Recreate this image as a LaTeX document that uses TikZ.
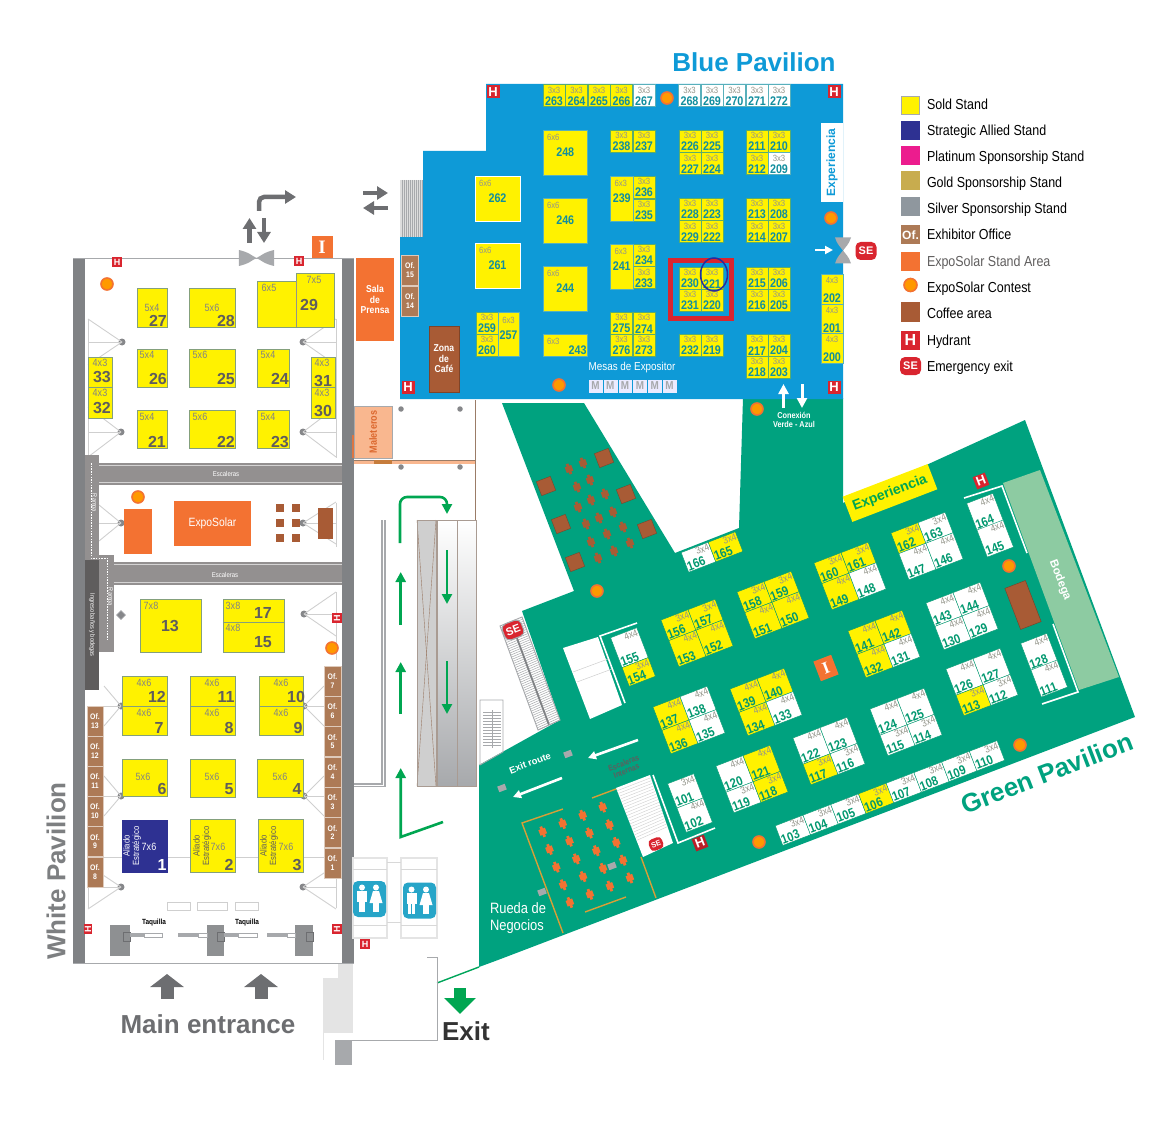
\documentclass[tikz,border=0pt]{standalone}
\usepackage{fontspec}
\setmainfont{Liberation Sans}
\newfontfamily\narrowf[FakeStretch=0.86]{Liberation Sans}
\newfontfamily\slabf{Liberation Serif}
\usetikzlibrary{arrows.meta,positioning,calc,shapes.geometric}

\definecolor{soldY}{HTML}{FFF200}
\definecolor{blueHall}{HTML}{0E9AD7}
\definecolor{greenHall}{HTML}{00A27F}
\definecolor{greenStore}{HTML}{8DCBA2}
\definecolor{routeGreen}{HTML}{00A651}
\definecolor{wallGray}{HTML}{808285}
\definecolor{bandGray}{HTML}{939090}
\definecolor{darkGray}{HTML}{5F5D5D}
\definecolor{midGray}{HTML}{6D6E71}
\definecolor{softGray}{HTML}{A7A9AC}
\definecolor{lineGray}{HTML}{CFCFCF}
\definecolor{dimGray}{HTML}{93958A}
\definecolor{expoOrange}{HTML}{F37232}
\definecolor{coffeeBrown}{HTML}{A85B35}
\definecolor{officeBrown}{HTML}{AD7A56}
\definecolor{alliedBlue}{HTML}{2E3192}
\definecolor{platPink}{HTML}{EC1C8E}
\definecolor{goldTan}{HTML}{C8AC4E}
\definecolor{silverGray}{HTML}{8F979E}
\definecolor{signRed}{HTML}{D9252F}
\definecolor{wcBlue}{HTML}{27A5C8}
\definecolor{peach}{HTML}{F9B78F}
\definecolor{numTeal}{HTML}{118E9E}
\definecolor{numGreen}{HTML}{00986F}

\tikzset{
  every node/.style={inner sep=0pt,outer sep=0pt},
  bluebox/.style={rectangle,draw=numTeal!70,line width=0.5pt,anchor=north west},
  bdim/.style={font=\narrowf\fontsize{9}{9}\selectfont,text=dimGray,inner sep=1pt},
  bnum/.style={font=\narrowf\bfseries\fontsize{12.5}{12.5}\selectfont,text=numTeal,inner sep=1pt},
  whitebox/.style={rectangle,draw=dimGray!90!green,line width=0.8pt,fill=soldY,anchor=north west},
  wdim/.style={font=\narrowf\fontsize{10.5}{10.5}\selectfont,text=wallGray},
  wnum/.style={font=\bfseries\fontsize{16}{16}\selectfont,text=darkGray},
  greenbox/.style={rectangle,draw=numGreen,line width=0.4pt},
  gdim/.style={font=\narrowf\fontsize{10}{10}\selectfont,text=dimGray,inner sep=1pt},
  gnum/.style={font=\narrowf\bfseries\fontsize{13}{13}\selectfont,text=numGreen,inner sep=0.8pt},
  officebox/.style={rectangle,fill=officeBrown,draw=white!60!officeBrown,line width=0.4pt,align=center,text=white,
    font=\narrowf\bfseries\fontsize{8}{8.5}\selectfont},
  hydrantbox/.style={rectangle,fill=signRed,text=white,font=\bfseries\fontsize{13}{13}\selectfont,minimum size=13pt},
  hydrantsmall/.style={hydrantbox,font=\bfseries\fontsize{9}{9}\selectfont,minimum size=10pt},
  contestdot/.style={circle,fill=orange!80!yellow,draw=expoOrange,line width=1.6pt,minimum size=12pt},
  seicon/.style={rectangle,rounded corners=5pt,fill=signRed,text=white,font=\bfseries\fontsize{11}{11}\selectfont,
    minimum width=21pt,minimum height=18pt},
  itile/.style={rectangle,fill=expoOrange,text=white,font=\slabf\bfseries\fontsize{19}{19}\selectfont,minimum width=21pt,minimum height=22pt},
  orangearea/.style={rectangle,fill=expoOrange,text=white,anchor=north west},
  brownarea/.style={rectangle,fill=coffeeBrown,text=white,anchor=north west},
  stairsband/.style={fill=bandGray},
  title/.style={font=\bfseries\fontsize{26}{26}\selectfont},
  greenarrow/.style={draw=routeGreen,line width=2.6pt,-{Triangle[length=10pt,width=10pt]}},
  grayarrow/.style={draw=midGray,line width=4.5pt,-{Triangle[length=11pt,width=13pt]}},
  whitearrow/.style={draw=white,line width=2.6pt,-{Triangle[length=8pt,width=8pt]}},
  fanline/.style={draw=lineGray,line width=0.9pt},
  postdot/.style={circle,fill=softGray!80!black,minimum size=7pt},
  swatch/.style={rectangle,minimum size=19pt},
  legendlab/.style={font=\narrowf\fontsize{14.5}{14.5}\selectfont,anchor=base west}
}

% stand in the blue hall
\newcommand{\bstand}[5]{
  \node[bluebox,fill=#4,draw=#4!30!numTeal,minimum width=22pt,minimum height=22pt] (b#1) at (#2,#3) {};
  \node[bdim,anchor=north] at ($(b#1.north)+(0,1.5)$) {#5};
  \node[bnum,anchor=south] at (b#1.south) {#1};
}
\newcommand{\bigstand}[6]{
  \node[bluebox,fill=soldY,draw=#6,minimum width=#4pt,minimum height=45pt] (b#1) at (#2,#3) {};
  \node[bdim,anchor=north west] at ($(b#1.north west)+(3,3)$) {#5};
  \node[bnum] at (b#1.center) {#1};
}
% tilted stand of the green hall, placed inside a rotated scope
\newcommand{\gcell}[7]{
  \node[greenbox,fill=#6,minimum width=#4pt,minimum height=#5pt] (g#1) at (#2,#3) {};
  \node[gdim,anchor=north east] at (g#1.north east) {#7};
  \node[gnum,anchor=south west] at (g#1.south west) {#1};
}
% block of four tilted stands: centre, height of the upper row, then the stands
\newcommand{\gblock}[6]{
  \begin{scope}[shift={(#1)},rotate=21,transform shape]
    \pgfmathsetmacro{\hup}{#2}
    \pgfmathsetmacro{\hlo}{50-#2}
    \foreach \nm/\fc/\dm [count=\i from 1] in {#3,#4,#5,#6} {
      \ifnum\i=1 \gcell{\nm}{-14.5}{-25+\hup/2}{29}{\hup}{\fc}{\dm}\fi
      \ifnum\i=2 \gcell{\nm}{14.5}{-25+\hup/2}{29}{\hup}{\fc}{\dm}\fi
      \ifnum\i=3 \gcell{\nm}{-14.5}{25-\hlo/2}{29}{\hlo}{\fc}{\dm}\fi
      \ifnum\i=4 \gcell{\nm}{14.5}{25-\hlo/2}{29}{\hlo}{\fc}{\dm}\fi
    }
  \end{scope}
}
\newcommand{\doorbow}[4]{
  \begin{scope}[shift={(#1,#2)},rotate=#3,xscale=#4]
    \fill[softGray] (-13,-8) .. controls (-6,-6) and (-3,-2) .. (0,0)
      .. controls (3,-2) and (6,-6) .. (13,-8) -- (13,8)
      .. controls (6,6) and (3,2) .. (0,0)
      .. controls (-3,2) and (-6,6) .. (-13,8) -- cycle;
  \end{scope}
}
\newcommand{\deskmark}[3]{
  \begin{scope}[shift={(#1,#2)},rotate=21]
    \fill[#3] (-3.5,-3) rectangle (3.5,3);
    \fill[#3] (-1.4,-5.5) rectangle (1.4,5.5);
  \end{scope}
}
\newcommand{\fanpost}[5]{
  \node[postdot] (#1) at (#2,#3) {};
  \foreach \yy in {-#5,0,#5} { \draw[fanline] (#1.center) -- (#4,#3+\yy); }
}
\newcommand{\wcperson}[2]{
  \fill[white] (#1,#2-10.5) circle (3);
  \fill[white] (#1-5,#2-7) rectangle (#1+5,#2+4);
  \fill[white] (#1-3.2,#2+4) rectangle (#1-0.4,#2+14);
  \fill[white] (#1+0.4,#2+4) rectangle (#1+3.2,#2+14);
}
\newcommand{\wcwoman}[2]{
  \fill[white] (#1,#2-10.5) circle (3);
  \fill[white] (#1-3,#2-7) -- (#1+3,#2-7) -- (#1+6.5,#2+5) -- (#1-6.5,#2+5) -- cycle;
  \fill[white] (#1-3,#2+5) rectangle (#1-0.4,#2+14);
  \fill[white] (#1+0.4,#2+5) rectangle (#1+3,#2+14);
}

\begin{document}
\begin{tikzpicture}[x=1pt,y=-1pt]
  \useasboundingbox (0,0) rectangle (1160,1134);

  % Green pavilion floor
  \fill[greenHall] (502,403) -- (584,403) -- (675,553) -- (739,528) -- (743,398) -- (843,398)
    -- (843,503) -- (1025,420) -- (1135,717) -- (498,960) -- (479,967) -- (479,765)
    -- (560,720) -- (522,611) -- (574,591) -- cycle;
  \fill[greenStore] (1003,483) -- (1040,470) -- (1119,677) -- (1079,690) -- cycle;
  \node[rotate=-69,text=white,font=\bfseries\fontsize{11.5}{11.5}\selectfont] (bodegaLabel) at (1060,580) {Bodega};
  \draw[routeGreen!80!greenHall,line width=1.4pt] (437,983) -- (479,967);

  % Blue pavilion floor
  \fill[blueHall] (486,84) -- (843,84) -- (843,399) -- (400,399) -- (400,237) -- (423,237) -- (423,151) -- (486,151) -- cycle;
  \fill[lineGray!70] (400,180) rectangle (423,237);
  \foreach \xx in {402,404,...,422} { \draw[softGray,line width=0.3pt] (\xx,180) -- (\xx,237); }

  % Blue stands, fixed size
  \foreach \nm/\xx/\yy/\fc/\dm in {
    263/543/84.5/soldY/3x3,264/565.5/84.5/soldY/3x3,265/588/84.5/soldY/3x3,266/610.5/84.5/soldY/3x3,267/633/84.5/white/3x3,
    268/678.5/84.5/white/3x3,269/701/84.5/white/3x3,270/723.5/84.5/white/3x3,271/746/84.5/white/3x3,272/768/84.5/white/3x3,
    238/610.5/130/soldY/3x3,237/633/130/soldY/3x3,
    226/679/130/soldY/3x3,225/701/130/soldY/3x3,227/679/152.5/soldY/3x3,224/701/152.5/soldY/3x3,
    211/746/130/soldY/3x3,210/768/130/soldY/3x3,212/746/152.5/soldY/3x3,209/768/152.5/white/3x3,
    236/633/176/soldY/3x3,235/633/199/soldY/3x3,
    228/679/198/soldY/3x3,223/701/198/soldY/3x3,229/679/220.5/soldY/3x3,222/701/220.5/soldY/3x3,
    213/746/198/soldY/3x3,208/768/198/soldY/3x3,214/746/220.5/soldY/3x3,207/768/220.5/soldY/3x3,
    234/633/244/soldY/3x3,233/633/266.5/soldY/3x3,
    230/679/267/soldY/3x3,221/701/267/soldY/3x3,231/679/289/soldY/3x3,220/701/289/soldY/3x3,
    215/746/267/soldY/3x3,206/768/267/soldY/3x3,216/746/289/soldY/3x3,205/768/289/soldY/3x3,
    259/476/312/soldY/3x3,260/476/334/soldY/3x3,
    275/610.5/312/soldY/3x3,274/633/312/soldY/3x3,276/610.5/334/soldY/3x3,273/633/334/soldY/3x3,
    232/679/334/soldY/3x3,219/701/334/soldY/3x3,
    217/746/334/soldY/3x3,204/768/334/soldY/3x3,218/746/356/soldY/3x3,203/768/356/soldY/3x3} {
    \bstand{\nm}{\xx}{\yy}{\fc}{\dm}
  }
  % Blue stands, larger
  \bigstand{248}{543}{130}{44.5}{6x6}{numTeal!70}
  \bigstand{246}{543}{198}{44.5}{6x6}{numTeal!70}
  \bigstand{244}{543}{266}{44.5}{6x6}{numTeal!70}
  \bigstand{262}{475}{176}{45}{6x6}{white}
  \bigstand{261}{475}{243}{45}{6x6}{white}
  \bigstand{239}{610.5}{176}{22.5}{6x3}{numTeal!70}
  \bigstand{241}{610.5}{244}{22.5}{6x3}{numTeal!70}
  \node[bluebox,fill=soldY,minimum width=21pt,minimum height=44pt] (b257) at (498,312) {};
  \node[bdim] at (508.5,320) {6x3};
  \node[bnum] at (508.5,335) {257};
  \node[bluebox,fill=soldY,minimum width=44.5pt,minimum height=22pt] (b243) at (543,334) {};
  \node[bdim,anchor=north west] at ($(b243.north west)+(3,3)$) {6x3};
  \node[bnum,anchor=south east] at (b243.south east) {243};
  \foreach \nm/\yy/\dm/\hh in {202/274/4x3/30,201/304/4x3/29.5,200/333.5/4x3/29.5} {
    \node[bluebox,fill=soldY,minimum width=22pt,minimum height=\hh pt] (b\nm) at (821,\yy) {};
    \node[bdim,anchor=north] at ($(b\nm.north)+(0,2)$) {\dm};
    \node[bnum,anchor=south] at (b\nm.south) {\nm};
  }

  % Blue hall furniture
  \node[rectangle,fill=white,text=blueHall,minimum width=22pt,minimum height=79pt] (expBlue) at (832,162.5) {};
  \node[rotate=90,text=blueHall,font=\bfseries\fontsize{12}{12}\selectfont] at (expBlue.center) {Experiencia};
  \node[draw=signRed,line width=4.5pt,minimum width=61pt,minimum height=58pt] (markBox) at (701,289.5) {};
  \node[draw=alliedBlue!90!blue,line width=1.5pt,ellipse,minimum width=27pt,minimum height=33pt] (markRing) at (714,274.5) {};
  \node[officebox,minimum width=17pt,minimum height=30pt] (of15) at (410,270) {Of.\\15};
  \node[officebox,minimum width=17pt,minimum height=30pt] (of14) at (410,301) {Of.\\14};
  \node[brownarea,draw=coffeeBrown!75!black,line width=0.6pt,minimum width=30pt,minimum height=66pt,align=center,
    font=\narrowf\bfseries\fontsize{10}{10.5}\selectfont] (zonaCafe) at (429,326) {Zona\\de\\Café};
  \node[text=white,font=\narrowf\fontsize{11.5}{11.5}\selectfont] (mesasLabel) at (632,368) {Mesas de Expositor};
  \foreach \i in {0,...,5} {
    \node[rectangle,fill=white!92!blue,draw=blueHall,line width=0.4pt,minimum width=14.8pt,minimum height=14pt,
      text=softGray,font=\narrowf\bfseries\fontsize{11.5}{11.5}\selectfont] (mesa\i) at (595.5+\i*14.8,386) {M};
  }
  \node[text=white,align=center,font=\narrowf\bfseries\fontsize{8.5}{8.5}\selectfont] (conexion) at (794,420) {Conexión\\Verde - Azul};
  \draw[draw=white,line width=3pt,-{Triangle[length=10pt,width=10pt]}] (783.5,408) -- (783.5,384);
  \draw[draw=white,line width=3pt,-{Triangle[length=10pt,width=10pt]}] (802,384) -- (802,408);
  \draw[whitearrow] (815,250) -- (833,250);
  \doorbow{843}{250.5}{90}{1}
  \node[contestdot] (cb1) at (667,98) {};
  \node[contestdot] (cb2) at (831,218) {};
  \node[contestdot] (cb3) at (559,385) {};
  \node[contestdot] (cb4) at (757,409) {};
  \node[hydrantbox] (hb1) at (493,92) {H};
  \node[hydrantbox] (hb2) at (834,92) {H};
  \node[hydrantbox] (hb3) at (408,387) {H};
  \node[hydrantbox] (hb4) at (834,387) {H};
  \node[seicon] (seBlue) at (866,251) {SE};
  \node[text=blueHall,font=\bfseries\fontsize{26}{26}\selectfont] (blueTitle) at (754,62) {Blue Pavilion};

  % Green hall, cafeteria branch
  \foreach \xx/\yy in {546/486,604/458,626/494,561/524,647/529,575/562} {
    \node[rectangle,rotate=21,fill=coffeeBrown,draw=coffeeBrown!70!black,line width=0.3pt,minimum size=15pt] at (\xx,\yy) {};
  }
  \foreach \xx/\yy in {569/469,583/463,577/487,590/480,578/507,591/500,605/494,586/524,599/518,613/512,
      591/542,607/534,623/527,598/558,614/551,630/543} {
    \deskmark{\xx}{\yy}{coffeeBrown}
  }

  % Green stands
  \gblock{697,633}{22}{156/soldY/3x4}{157/soldY/3x4}{153/soldY/4x4}{152/soldY/4x4}
  \gblock{773,605}{22}{158/soldY/3x4}{159/soldY/3x4}{151/soldY/4x4}{150/soldY/4x4}
  \gblock{850,576}{22}{160/soldY/3x4}{161/soldY/3x4}{149/soldY/4x4}{148/white/4x4}
  \gblock{927,546}{22}{162/soldY/3x4}{163/white/3x4}{147/white/4x4}{146/white/4x4}
  \gblock{766,702}{25}{139/soldY/4x4}{140/soldY/4x4}{134/soldY/4x4}{133/white/4x4}
  \gblock{689,720}{25}{137/soldY/4x4}{138/white/4x4}{136/soldY/4x4}{135/white/4x4}
  \gblock{884,644}{25}{141/soldY/4x4}{142/soldY/4x4}{132/soldY/4x4}{131/white/4x4}
  \gblock{962,616}{25}{143/white/4x4}{144/white/4x4}{130/white/4x4}{129/white/4x4}
  \gblock{982,682}{28}{126/white/4x4}{127/white/4x4}{113/soldY/3x4}{112/white/3x4}
  \gblock{906,722}{28}{124/white/4x4}{125/white/4x4}{115/white/3x4}{114/white/3x4}
  \gblock{829,751}{28}{122/white/4x4}{123/white/4x4}{117/soldY/3x4}{116/white/3x4}
  \gblock{752,779}{28}{120/white/4x4}{121/soldY/4x4}{119/white/3x4}{118/soldY/3x4}
  \begin{scope}[shift={(690,803)},rotate=21,transform shape]
    \gcell{101}{0}{-13}{28}{26}{white}{3x4}
    \gcell{102}{0}{13}{28}{26}{white}{4x4}
  \end{scope}
  \begin{scope}[shift={(633,657)},rotate=21,transform shape]
    \gcell{155}{0}{-10}{28}{32}{white}{4x4}
    \gcell{154}{0}{16}{28}{20}{soldY}{3x4}
  \end{scope}
  \begin{scope}[shift={(990,525)},rotate=21,transform shape]
    \gcell{164}{0}{-14}{28}{29}{white}{4x4}
    \gcell{145}{0}{14.5}{28}{29}{white}{4x4}
  \end{scope}
  \begin{scope}[shift={(1044,665)},rotate=21,transform shape]
    \gcell{128}{0}{-14}{28}{29}{white}{4x4}
    \gcell{111}{0}{14.5}{28}{29}{white}{4x4}
  \end{scope}
  \begin{scope}[shift={(712,552)},rotate=21,transform shape]
    \gcell{166}{-14.5}{0}{29}{21}{white}{3x4}
    \gcell{165}{14.5}{0}{29}{21}{soldY}{3x4}
  \end{scope}
  \begin{scope}[shift={(890,793)},rotate=21,transform shape]
    \foreach \nm/\fc [count=\i from 0] in {103/white,104/white,105/white,106/soldY,107/white,108/white,109/white,110/white} {
      \gcell{\nm}{\i*29.7-104}{0}{29.7}{21}{\fc}{3x4}
    }
  \end{scope}

  % Green hall signs and partitions
  \node[rectangle,rotate=21,fill=soldY,minimum width=91pt,minimum height=27pt,text=routeGreen,
    font=\bfseries\fontsize{14}{14}\selectfont] (expGreen) at (890,493) {Experiencia};
  \node[itile,rotate=21,minimum width=19pt,minimum height=21pt,font=\slabf\bfseries\fontsize{17}{17}\selectfont] (infoGreen) at (826,668) {I};
  \node[rectangle,rotate=21,fill=coffeeBrown,draw=coffeeBrown!70!black,line width=0.4pt,minimum width=22pt,minimum height=44pt] (brownGreen) at (1023,605) {};
  \node[contestdot] (cg1) at (1009,566) {};
  \node[contestdot] (cg2) at (1020,745) {};
  \node[contestdot] (cg3) at (759,842) {};
  \node[contestdot] (cg4) at (597,591) {};
  \node[hydrantbox,rotate=21] (hg1) at (981,481) {H};
  \node[hydrantbox,rotate=21,fill=signRed!85!black] (hg2) at (700,843) {H};
  \draw[white,line width=1.6pt] (964,498) -- (1002,486) -- (1027,553);
  \draw[white,line width=1.6pt] (1053,624) -- (1078,692) -- (1042,704);
  \draw[white,line width=1.6pt] (637,623) -- (600,636) -- (625,703);
  \draw[white,line width=1.6pt] (653,775) -- (678,843) -- (715,828);
  \fill[white] (563,648) -- (598,637) -- (622,705) -- (590,719) -- cycle;
  \draw[lineGray,line width=0.5pt] (573,672) -- (608,659);
  \draw[lineGray,line width=0.5pt] (577,682) -- (612,669);
  \fill[white] (616,788) -- (650,775) -- (673,843) -- (643,857) -- cycle;
  \foreach \t in {0.04,0.08,...,0.80} {
    \draw[lineGray,line width=0.4pt] ($(616,788)!\t!(643,857)$) -- ($(650,775)!\t!(673,843)$);
  }
  \node[seicon,rotate=21,minimum width=14pt,minimum height=12pt,rounded corners=4pt,font=\bfseries\fontsize{7.5}{7.5}\selectfont] (seInner) at (656,844) {SE};
  \node[rotate=21,align=center,text=darkGray,font=\narrowf\bfseries\fontsize{8}{8}\selectfont] (innerStairs) at (625,767) {Escaleras\\Internas};
  \node[rotate=21,text=white,font=\bfseries\fontsize{9.5}{9.5}\selectfont] (exitRoute) at (530,763) {Exit route};
  \draw[whitearrow] (638,740) -- (588,758);
  \draw[whitearrow] (562,778) -- (513,797);
  \foreach \xx/\yy in {568/754,502/788,542/892,612/866} {
    \node[rectangle,rotate=21,fill=softGray,minimum width=8pt,minimum height=6pt] at (\xx,\yy) {};
  }

  % Rueda de Negocios
  \draw[goldTan!70!orange,line width=1.4pt] (563,809) -- (522,823) -- (563,933);
  \draw[goldTan!70!orange,line width=1.4pt] (592,798) -- (616,789);
  \draw[goldTan!70!orange,line width=1.4pt] (641,857) -- (656,898);
  \draw[goldTan!70!orange,line width=1.4pt] (585,912) -- (626,897);
  \foreach \i in {0,...,3} {
    \foreach \j in {0,...,4} {
      \deskmark{542.7+\i*20+\j*6.8}{831.7-\i*8.2+\j*17.7}{expoOrange}
    }
  }
  \node[text=white,align=left,font=\narrowf\fontsize{15}{16.5}\selectfont] (ruedaLabel) at (518,918) {Rueda de\\Negocios};

  % Stairs outside the green hall
  \fill[white] (500,626) -- (522,617) -- (560,720) -- (538,730) -- cycle;
  \foreach \t in {0.02,0.04,...,1.0} {
    \draw[softGray,line width=0.5pt] ($(500,626)!\t!(538,730)$) -- ($(522,617)!\t!(560,720)$);
  }
  \draw[wallGray,line width=1.8pt] (511,622) -- (549,725);
  \draw[softGray,line width=0.9pt] (500,626) -- (522,617) -- (560,720) -- (538,730) -- cycle;
  \node[seicon,rotate=21,draw=softGray,line width=1pt,minimum width=20pt,minimum height=17pt] (seStair) at (513,630) {SE};
  \draw[softGray,line width=0.8pt] (480,700) -- (503,700) -- (503,752) -- (480,765) -- cycle;
  \foreach \yy in {712,715,...,745} { \draw[softGray,line width=0.4pt] (483,\yy) -- (501,\yy); }
  \draw[softGray,line width=0.8pt] (492,710) -- (492,748);

  % White pavilion shell
  \fill[wallGray] (73,259) rectangle (85,964);
  \fill[wallGray] (342,259) rectangle (354,964);
  \draw[softGray,line width=1pt] (73,258.5) -- (354,258.5);
  \draw[softGray,line width=1pt] (73,963.5) -- (354,963.5);
  \doorbow{256.5}{258}{0}{1.35}

  % Posts with their bracing
  \fanpost{postA}{122}{342}{88}{23}
  \fanpost{postB}{303}{342}{336}{23}
  \fanpost{postC}{121}{432}{88}{25}
  \fanpost{postD}{303}{432}{336}{25}
  \fanpost{postE}{121}{523}{99}{18}
  \fanpost{postF}{303}{523}{336}{21}
  \fanpost{postG}{304}{614}{336}{22}
  \fanpost{postH}{121}{706}{104}{20}
  \fanpost{postI}{304}{706}{324}{20}
  \fanpost{postJ}{121}{796}{104}{20}
  \fanpost{postK}{304}{796}{324}{20}
  \fanpost{postL}{121}{887}{88}{22}
  \fanpost{postM}{303}{887}{336}{22}
  \node[postdot,diamond,aspect=1,draw=softGray,minimum size=9pt] (postN) at (121,615) {};
  \draw[fanline] (88,319) -- (88,458);
  \draw[fanline] (336,319) -- (336,458);
  \draw[fanline] (336,503) -- (336,547);
  \draw[fanline] (336,592) -- (336,660);
  \draw[fanline] (88,865) -- (88,908);
  \draw[fanline] (336,865) -- (336,908);
  \draw[fanline] (103,857) -- (324,857);

  % Stair bands and service strip
  \fill[stairsband] (99,463) rectangle (342,485);
  \fill[stairsband] (114,562) rectangle (342,585);
  \foreach \yy in {465.5,482.5} { \draw[white!60!bandGray,line width=0.5pt] (99,\yy) -- (342,\yy); }
  \foreach \yy in {564.5,582.5} { \draw[white!60!bandGray,line width=0.5pt] (114,\yy) -- (342,\yy); }
  \node[text=white,font=\narrowf\fontsize{7}{7}\selectfont] (stairsA) at (226,473.5) {Escaleras};
  \node[text=white,font=\narrowf\fontsize{7}{7}\selectfont] (stairsB) at (225,574.5) {Escaleras};
  \fill[bandGray] (85,455) rectangle (99,560);
  \fill[bandGray] (99,555) rectangle (114,652);
  \fill[darkGray] (85,560) rectangle (99,690);
  \draw[white,line width=1pt,dash pattern=on 1.5pt off 1.2pt] (91,463) -- (91,558) -- (107,558) -- (107,640);
  \node[rotate=-90,text=white,font=\narrowf\fontsize{6.5}{6.5}\selectfont] (rampA) at (94,503) {Rampa};
  \node[rotate=-90,text=white,font=\narrowf\fontsize{6.5}{6.5}\selectfont] (rampB) at (110,597) {Rampa};
  \node[rotate=-90,text=white,font=\narrowf\fontsize{6.5}{6.5}\selectfont] (accessLabel) at (92,625) {Ingreso baños y bodegas};

  % White pavilion stands
  \foreach \nm/\xx/\yy/\ww/\hh/\dm/\dx/\dy/\nx/\ny in {
    27/137/288/30/39/5x4/152/308/158/321, 28/189/288/46/39/5x6/212/308/226/321,
    29/296/273/38/54/7x5/314/280/309/305,
    26/137/349/30/38/5x4/147/355/158/379, 25/189/349/46/38/5x6/200/355/226/379, 24/257/349/32/38/5x4/268/355/280/379,
    21/137/410/30/38/5x4/147/417/157/442, 22/189/410/46/38/5x6/200/417/226/442, 23/257/410/32/38/5x4/268/417/280/442,
    33/88/357/24/30/4x3/100/363/102/377, 32/88/387/24/31/4x3/100/393/102/408,
    31/311/357/24/30/4x3/322/363/323/381, 30/311/387/24/31/4x3/322/393/323/411,
    13/140/599/61/53/7x8/151/606/170/626,
    17/223/599/61/23/3x8/233/606/263/613, 15/223/622/61/30/4x8/233/628/263/642,
    12/122/676/45/30/4x6/144/683/157/697, 7/122/706/45/29/4x6/144/713/159/728,
    11/190/676/45/30/4x6/212/683/226/697, 8/190/706/45/29/4x6/212/713/229/728,
    10/259/676/44/30/4x6/281/683/296/697, 9/259/706/44/29/4x6/281/713/298/728,
    6/122/759/45/37/5x6/143/777/162/789, 5/190/759/45/38/5x6/212/777/229/789, 4/257/759/46/38/5x6/280/777/297/789,
    2/190/819/45/53/7x6/218/847/229/865, 3/258/819/45/53/7x6/286/847/297/865} {
    \node[whitebox,minimum width=\ww pt,minimum height=\hh pt] (w\nm) at (\xx,\yy) {};
    \node[wdim] at (\dx,\dy) {\dm};
    \node[wnum] at (\nx,\ny) {\nm};
  }
  \node[whitebox,minimum width=39pt,minimum height=46pt] (w6x5) at (257,281) {};
  \node[wdim] at (269,288) {6x5};
  \draw[dimGray,line width=0.6pt] (296,281) -- (296,327);
  \node[whitebox,fill=alliedBlue,draw=alliedBlue,minimum width=45pt,minimum height=52pt] (w1) at (122,820) {};
  \node[wdim,text=white] at (149,847) {7x6};
  \node[wnum,text=white] at (162,865) {1};
  \node[rotate=90,align=center,text=white,font=\narrowf\fontsize{9}{9.5}\selectfont] (allied1) at (132,846) {Aliado\\Estratégico};
  \node[rotate=90,align=center,text=darkGray,font=\narrowf\fontsize{9}{9.5}\selectfont] (allied2) at (202,846) {Aliado\\Estratégico};
  \node[rotate=90,align=center,text=darkGray,font=\narrowf\fontsize{9}{9.5}\selectfont] (allied3) at (269,846) {Aliado\\Estratégico};

  % Offices
  \foreach \n/\yy in {7/666,6/696.3,5/726.6,4/757,3/787.3,2/817.6,1/848} {
    \node[officebox,minimum width=17pt,minimum height=30pt,anchor=north west] (of\n) at (324,\yy) {Of.\\\n};
  }
  \foreach \n/\yy in {13/706,12/736,11/766,10/796,9/826.5,8/857} {
    \node[officebox,minimum width=16pt,minimum height=30pt,anchor=north west] (ofL\n) at (87,\yy) {Of.\\\n};
  }

  % Expo features
  \node[orangearea,minimum width=77pt,minimum height=45pt,font=\narrowf\fontsize{12}{12}\selectfont] (expoBooth) at (174,501) {ExpoSolar};
  \node[orangearea,minimum width=28pt,minimum height=45pt] (expoSide) at (124,509) {};
  \node[contestdot] (cw1) at (107,284) {};
  \node[contestdot] (cw2) at (138,497) {};
  \node[contestdot] (cw3) at (332,648) {};
  \foreach \xx in {276,292} {
    \foreach \yy in {504,519,534} { \fill[coffeeBrown] (\xx,\yy) rectangle +(8,8); }
  }
  \node[brownarea,minimum width=15pt,minimum height=31pt] (brownWhite) at (318,508) {};
  \node[hydrantsmall] (hw1) at (117,262) {H};
  \node[hydrantsmall] (hw2) at (299,261) {H};
  \node[hydrantsmall,rotate=90] (hw3) at (337,618) {H};
  \node[hydrantsmall,rotate=90,minimum width=10pt,minimum height=8pt] (hw4) at (88,929) {H};
  \node[hydrantsmall,rotate=90] (hw5) at (337,929) {H};
  \node[hydrantsmall] (hw6) at (365,944) {H};
  \node[itile] (infoWhite) at (322,247) {I};
  \node[orangearea,minimum width=38pt,minimum height=83pt,align=center,font=\narrowf\bfseries\fontsize{10}{10.5}\selectfont] (salaPrensa) at (356,258) {Sala\\de\\Prensa};

  % Entrance, ticket desks
  \foreach \xx/\ww in {167/23,197/30,235/23} {
    \draw[lineGray,line width=0.6pt] (\xx,902) rectangle +(\ww,8);
  }
  \node[font=\narrowf\bfseries\fontsize{7.5}{7.5}\selectfont] (taquillaA) at (154,923) {Taquilla};
  \node[font=\narrowf\bfseries\fontsize{7.5}{7.5}\selectfont] (taquillaB) at (247,923) {Taquilla};
  \foreach \xa/\xb in {110/130,207/224,295/313} {
    \fill[softGray!85!black] (\xa,925) rectangle (\xb,955.5);
    \draw[midGray,line width=0.4pt] (\xb-7,932) rectangle (\xb,941);
  }
  \foreach \xa/\xb/\xc in {130/144/162,178/198/207,224/238/257,267/287/295} {
    \fill[softGray] (\xa,933) rectangle (\xb,937);
    \draw[softGray,line width=0.4pt] (\xb,933) rectangle (\xc,937);
  }
  \draw[grayarrow,line width=13pt,-{Triangle[length=13pt,width=33pt]}] (167,998.5) -- (167,974);
  \draw[grayarrow,line width=13pt,-{Triangle[length=13pt,width=33pt]}] (261,998.5) -- (261,974);
  \node[title,text=midGray] (mainEntrance) at (208,1024) {Main entrance};
  \node[title,text=softGray!75!black,rotate=90] (whiteTitle) at (56,871) {White Pavilion};

  % Door arrows
  \draw[grayarrow] (249.5,243) -- (249.5,218);
  \draw[grayarrow] (264,218) -- (264,243);
  \draw[grayarrow,rounded corners=5pt] (259,211) -- (259,197) -- (296,197);
  \draw[grayarrow] (363,193) -- (388,193);
  \draw[grayarrow] (388,208) -- (363,208);

  % Corridor
  \node[rectangle,fill=peach,draw=softGray,line width=0.6pt,minimum width=38pt,minimum height=52pt,anchor=north west] (maleteros) at (354,406) {};
  \node[rotate=90,text=expoOrange!90!black,font=\narrowf\bfseries\fontsize{10.5}{10.5}\selectfont] at (maleteros.center) {Maleteros};
  \fill[expoOrange!80!gray] (352,435) rectangle (354,458);
  \fill[peach] (354,460) rectangle (475,464);
  \draw[officeBrown!60!gray,line width=0.5pt] (354,460) -- (475,460);
  \fill[officeBrown!70!orange] (374,460) rectangle (392,464);
  \draw[officeBrown!60!gray,line width=0.8pt] (475,400) -- (475,520);
  \foreach \xx/\yy in {401/409,460/409,401/467,460/467} {
    \node[postdot,minimum size=5.5pt] at (\xx,\yy) {};
  }
  \draw[softGray,line width=2pt,double=white,double distance=0.7pt] (383.5,520) -- (383.5,785) -- (354,785);
  \fill[lineGray] (417,520) rectangle (436,786);
  \draw[officeBrown!60!gray,line width=0.4pt] (417,520) -- (436,786);
  \draw[officeBrown!60!gray,line width=0.4pt] (436,520) -- (417,786);
  \draw[softGray!70!officeBrown,line width=0.6pt] (417,520) rectangle (436,786);
  \shade[top color=white,bottom color=softGray] (437,520) rectangle (457,786);
  \shade[top color=white,bottom color=softGray] (457.5,520) rectangle (476,786);
  \draw[softGray!70!officeBrown,line width=0.6pt] (437,520) rectangle (457,786);
  \draw[softGray!70!officeBrown,line width=0.6pt] (457,520) rectangle (476,786);

  % Exit route on the corridor
  \draw[greenarrow,rounded corners=7pt] (400,543) -- (400,497) -- (447,497) -- (447,514);
  \draw[greenarrow] (400.7,625) -- (400.7,572);
  \draw[greenarrow] (400.7,714) -- (400.7,662);
  \draw[greenarrow] (443,822) -- (400.7,837) -- (400.7,768);
  \draw[greenarrow] (447,550) -- (447,604);
  \draw[greenarrow] (447,661) -- (447,714);

  % Toilets
  \foreach \xa/\xb in {353/387,401/437} {
    \draw[lineGray!55,line width=2pt] (\xa,858) rectangle (\xb,938);
    \draw[lineGray!80,line width=0.4pt] (\xa,869) -- (\xb,869);
    \draw[lineGray!80,line width=0.4pt] (\xa,925) -- (\xb,925);
  }
  \draw[lineGray!80,line width=0.4pt] (387,862) -- (401,862);
  \draw[lineGray!80,line width=0.4pt] (387,922) -- (401,922);
  \node[rectangle,rounded corners=5pt,fill=wcBlue,minimum width=33pt,minimum height=36pt] (wcA) at (369.5,899) {};
  \node[rectangle,rounded corners=5pt,fill=wcBlue,minimum width=33pt,minimum height=36pt] (wcB) at (419.5,900.5) {};
  \wcperson{362}{898}
  \wcwoman{376}{898}
  \wcperson{411.5}{900}
  \wcwoman{426}{900}

  % Exit
  \fill[lineGray!55] (338,964) rectangle (353,978);
  \fill[lineGray!55] (323,978) rectangle (353,1033);
  \draw[lineGray!55,line width=0.6pt] (323,1033) -- (323,1060);
  \fill[softGray] (335,1040) rectangle (352,1065);
  \draw[softGray,line width=1pt] (352,1040) -- (437,1040) -- (437,957) -- (427,957);
  \draw[routeGreen,line width=12pt,-{Triangle[length=16pt,width=31pt]}] (460,988) -- (460,1014);
  \node[title,text=black!80,anchor=west] (exitLabel) at (442,1031) {Exit};
  \node[title,text=greenHall,rotate=21] (greenTitle) at (1047,773) {Green Pavilion};

  % Legend
  \node[swatch,fill=soldY,draw=softGray,line width=0.8pt,minimum size=18pt] (sw1) at (910.5,105) {};
  \node[swatch,fill=alliedBlue] (sw2) at (910.5,131) {};
  \node[swatch,fill=platPink] (sw3) at (910.5,156) {};
  \node[swatch,fill=goldTan] (sw4) at (910.5,181) {};
  \node[swatch,fill=silverGray] (sw5) at (910.5,207) {};
  \node[swatch,fill=officeBrown,text=white,font=\bfseries\fontsize{12}{12}\selectfont] (sw6) at (910.5,235) {Of.};
  \node[swatch,fill=expoOrange] (sw7) at (910.5,262) {};
  \node[contestdot,minimum size=13pt] (sw8) at (910.5,285) {};
  \node[swatch,fill=coffeeBrown] (sw9) at (910.5,312) {};
  \node[swatch,fill=signRed,text=white,font=\bfseries\fontsize{16}{16}\selectfont] (sw10) at (910.5,340) {H};
  \node[seicon] (sw11) at (910.5,366) {SE};
  \foreach \i/\yy/\lab in {1/110/Sold Stand,2/136/Strategic Allied Stand,3/162/Platinum Sponsorship Stand,
      4/188/Gold Sponsorship Stand,5/214/Silver Sponsorship Stand,6/240/Exhibitor Office,
      8/293/ExpoSolar Contest,9/319/Coffee area,10/345/Hydrant,11/371/Emergency exit} {
    \node[legendlab] (lab\i) at (927,\yy) {\lab};
  }
  \node[legendlab,text=darkGray] (lab7) at (927,267) {ExpoSolar Stand Area};
\end{tikzpicture}
\end{document}
